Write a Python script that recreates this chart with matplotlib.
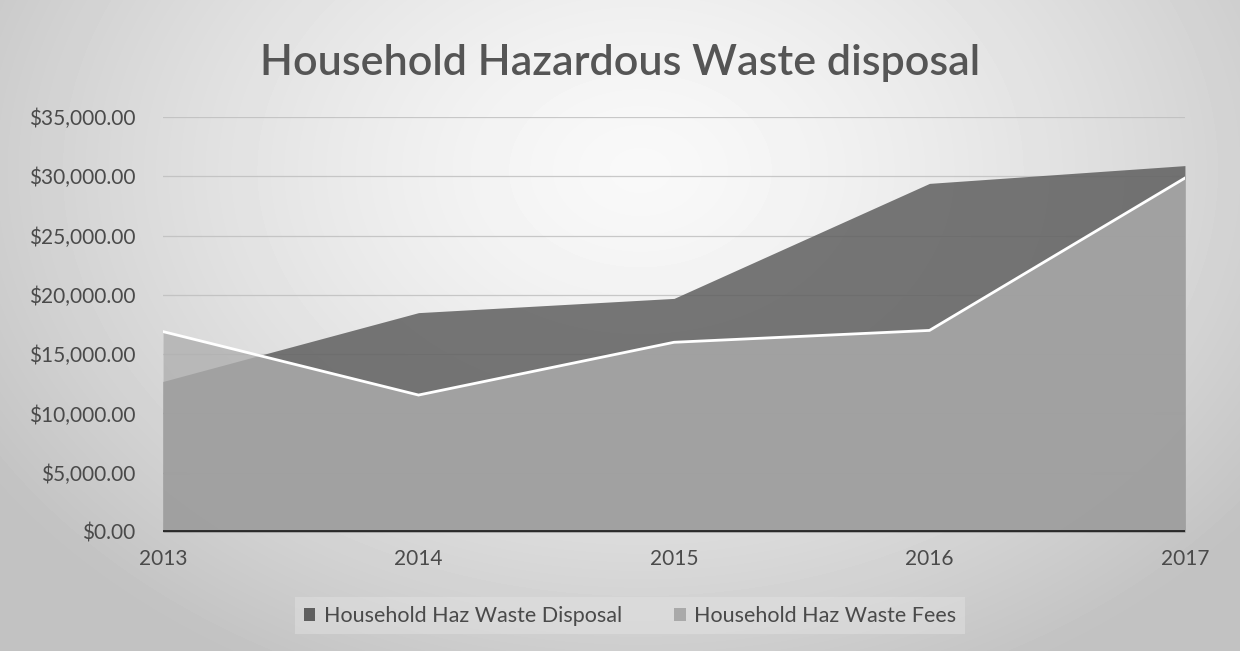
import numpy as np
import matplotlib.pyplot as plt
from matplotlib.patches import Patch
from matplotlib.ticker import FuncFormatter

years = [2013, 2014, 2015, 2016, 2017]
disposal = [12700, 18500, 19700, 29400, 30900]
fees = [16900, 11550, 16000, 17000, 29850]

title = "Household Hazardous Waste disposal"
disposal_label = "Household Haz Waste Disposal"
fees_label = "Household Haz Waste Fees"

plt.rcParams['font.family'] = ['Lato', 'DejaVu Sans']
text_color = '#4a4a4a'

fig = plt.figure(figsize=(12.4, 6.51), dpi=100)

# soft radial background, lighter in the upper middle
bg = fig.add_axes([0, 0, 1, 1])
h, w = 651, 1240
yy, xx = np.mgrid[0:h, 0:w]
d = np.sqrt(((xx - 640) / 760.0) ** 2 + ((yy - 170) / 560.0) ** 2)
shade = np.clip(0.975 - 0.21 * d ** 1.4, 0.76, 0.975)
bg.imshow(shade, cmap='gray', vmin=0, vmax=1, aspect='auto', extent=[0, 1, 0, 1])
bg.set_xlim(0, 1)
bg.set_ylim(0, 1)
bg.axis('off')

ax = fig.add_axes([0.1315, 0.1828, 0.8241, 0.6375])
ax.patch.set_alpha(0)

x = np.arange(len(years))
ax.fill_between(x, 0, disposal, color='#5f5f5f', alpha=0.85, lw=0, zorder=2)
ax.fill_between(x, 0, fees, color='#afafaf', alpha=0.78, lw=0, zorder=3)
ax.plot(x, fees, color='white', lw=2, zorder=4, solid_joinstyle='miter')
ax.axhline(0, color='#2a2a2a', lw=2.8, zorder=5)

ax.set_xlim(0, len(years) - 1)
ax.set_ylim(0, 35000)
ax.set_yticks(np.arange(0, 35001, 5000))
ax.yaxis.set_major_formatter(FuncFormatter(lambda v, p: f"${v:,.2f}"))
ax.set_xticks(x)
ax.set_xticklabels([str(y) for y in years])
ax.grid(axis='y', color='#bdbdbd', lw=0.9, alpha=0.8)
ax.set_axisbelow(True)
ax.tick_params(length=0, labelsize=15, colors=text_color)
ax.tick_params(axis='y', pad=20)
ax.tick_params(axis='x', pad=12)
for s in ax.spines.values():
    s.set_visible(False)

fig.text(0.5, 0.903, title, ha='center', va='center', fontsize=31,
         fontweight='semibold', color='#555555')

handles = [Patch(facecolor='#5f5f5f', label=disposal_label),
           Patch(facecolor='#a9a9a9', label=fees_label)]
leg = fig.legend(handles=handles, loc='center', bbox_to_anchor=(0.508, 0.054),
                 ncol=2, frameon=True, fontsize=15.5, handlelength=0.55,
                 handleheight=0.55, handletextpad=0.4, columnspacing=2.4,
                 borderpad=0.4)
frame = leg.get_frame()
frame.set_facecolor('#e4e4e4')
frame.set_alpha(0.45)
frame.set_edgecolor('none')
frame.set_boxstyle('square', pad=0.0)
for t in leg.get_texts():
    t.set_color(text_color)

fig.savefig('out.png', dpi=100)
